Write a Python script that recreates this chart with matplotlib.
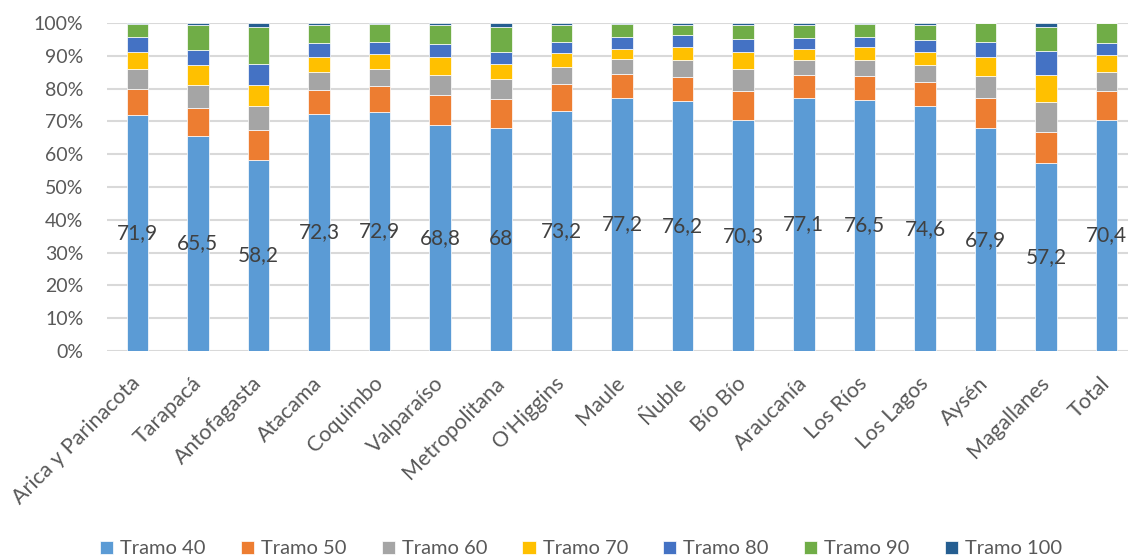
import matplotlib
matplotlib.use("Agg")
import matplotlib.pyplot as plt
import numpy as np

plt.rcParams['font.family'] = ['Lato', 'DejaVu Sans']

regiones = ["Arica y Parinacota", "Tarapacá", "Antofagasta", "Atacama", "Coquimbo",
            "Valparaíso", "Metropolitana", "O'Higgins", "Maule", "Ñuble", "Bío Bío",
            "Araucanía", "Los Ríos", "Los Lagos", "Aysén", "Magallanes", "Total"]

tramo_40 = [71.9, 65.5, 58.2, 72.3, 72.9, 68.8, 68.0, 73.2, 77.2, 76.2, 70.3, 77.1, 76.5, 74.6, 67.9, 57.2, 70.4]
tramo_50 = [8.1, 8.7, 9.1, 7.4, 7.8, 9.1, 8.7, 8.1, 7.1, 7.3, 9.1, 7.0, 7.3, 7.4, 9.1, 9.7, 9.0]
tramo_60 = [6.0, 7.0, 7.5, 5.5, 5.2, 6.1, 6.1, 5.3, 4.6, 5.1, 6.7, 4.5, 4.8, 5.1, 6.7, 9.0, 5.8]
tramo_70 = [5.3, 6.0, 6.3, 4.4, 4.6, 5.6, 4.6, 4.3, 3.3, 4.2, 5.1, 3.6, 4.2, 4.1, 5.8, 8.3, 4.9]
tramo_80 = [4.3, 4.7, 6.3, 4.3, 3.8, 3.9, 3.7, 3.3, 3.5, 3.5, 3.9, 3.1, 3.0, 3.5, 4.6, 7.2, 3.8]
tramo_90 = [4.0, 7.4, 11.4, 5.6, 5.3, 5.8, 7.8, 5.3, 3.9, 3.2, 4.4, 4.2, 4.0, 4.6, 5.9, 7.5, 6.0]
tramo_100 = [0.4, 0.7, 1.2, 0.5, 0.5, 0.7, 1.1, 0.5, 0.4, 0.5, 0.5, 0.5, 0.2, 0.7, 0.0, 1.1, 0.1]

series_names = ["Tramo 40", "Tramo 50", "Tramo 60", "Tramo 70", "Tramo 80", "Tramo 90", "Tramo 100"]
series_values = [tramo_40, tramo_50, tramo_60, tramo_70, tramo_80, tramo_90, tramo_100]
colors = ["#5B9BD5", "#ED7D31", "#A5A5A5", "#FFC000", "#4472C4", "#70AD47", "#255E91"]

W, H = 1128, 560
fig = plt.figure(figsize=(W / 100, H / 100), dpi=100)
ax = fig.add_axes([107 / W, 209 / H, 1030 / W, 328 / H])

x = np.arange(len(regiones))
bottom = np.zeros(len(regiones))
handles = []
for name, vals, c in zip(series_names, series_values, colors):
    v = np.array(vals) / 100.0
    b = ax.bar(x, v, 0.355, bottom=bottom, color=c, edgecolor="white",
               linewidth=0.5, label=name, zorder=3)
    handles.append(b)
    bottom += v

# value labels centred on the first segment
for xi, val in zip(x, tramo_40):
    txt = f"{val:g}".replace(".", ",")
    ax.text(xi, val / 200.0, txt, ha="center", va="center", fontsize=15,
            color="#404040", zorder=5)

ax.set_xlim(-0.5, len(regiones) - 0.5)
ax.set_ylim(0, 1.0)
ax.set_yticks(np.arange(0, 1.01, 0.1))
ax.set_yticklabels([f"{int(round(t * 100))}%" for t in np.arange(0, 1.01, 0.1)])
ax.yaxis.grid(True, color="#D9D9D9", linewidth=1.5, zorder=0)
ax.set_axisbelow(True)
for s in ax.spines.values():
    s.set_visible(False)
ax.tick_params(axis="y", length=0, pad=17, labelsize=14, labelcolor="#595959")
ax.set_xticks(x)
ax.set_xticklabels(regiones, rotation=45, ha="right", va="center",
                   rotation_mode="anchor")
ax.tick_params(axis="x", length=0, pad=21, labelsize=15.5, labelcolor="#595959")

fig.legend(handles=handles, labels=series_names, loc="center", ncol=7,
           bbox_to_anchor=(0.515, 11 / H), frameon=False, fontsize=14.5,
           labelcolor="#595959", handlelength=0.65, handleheight=0.65,
           handletextpad=0.35, columnspacing=1.75)

fig.savefig("out.png", dpi=100)
